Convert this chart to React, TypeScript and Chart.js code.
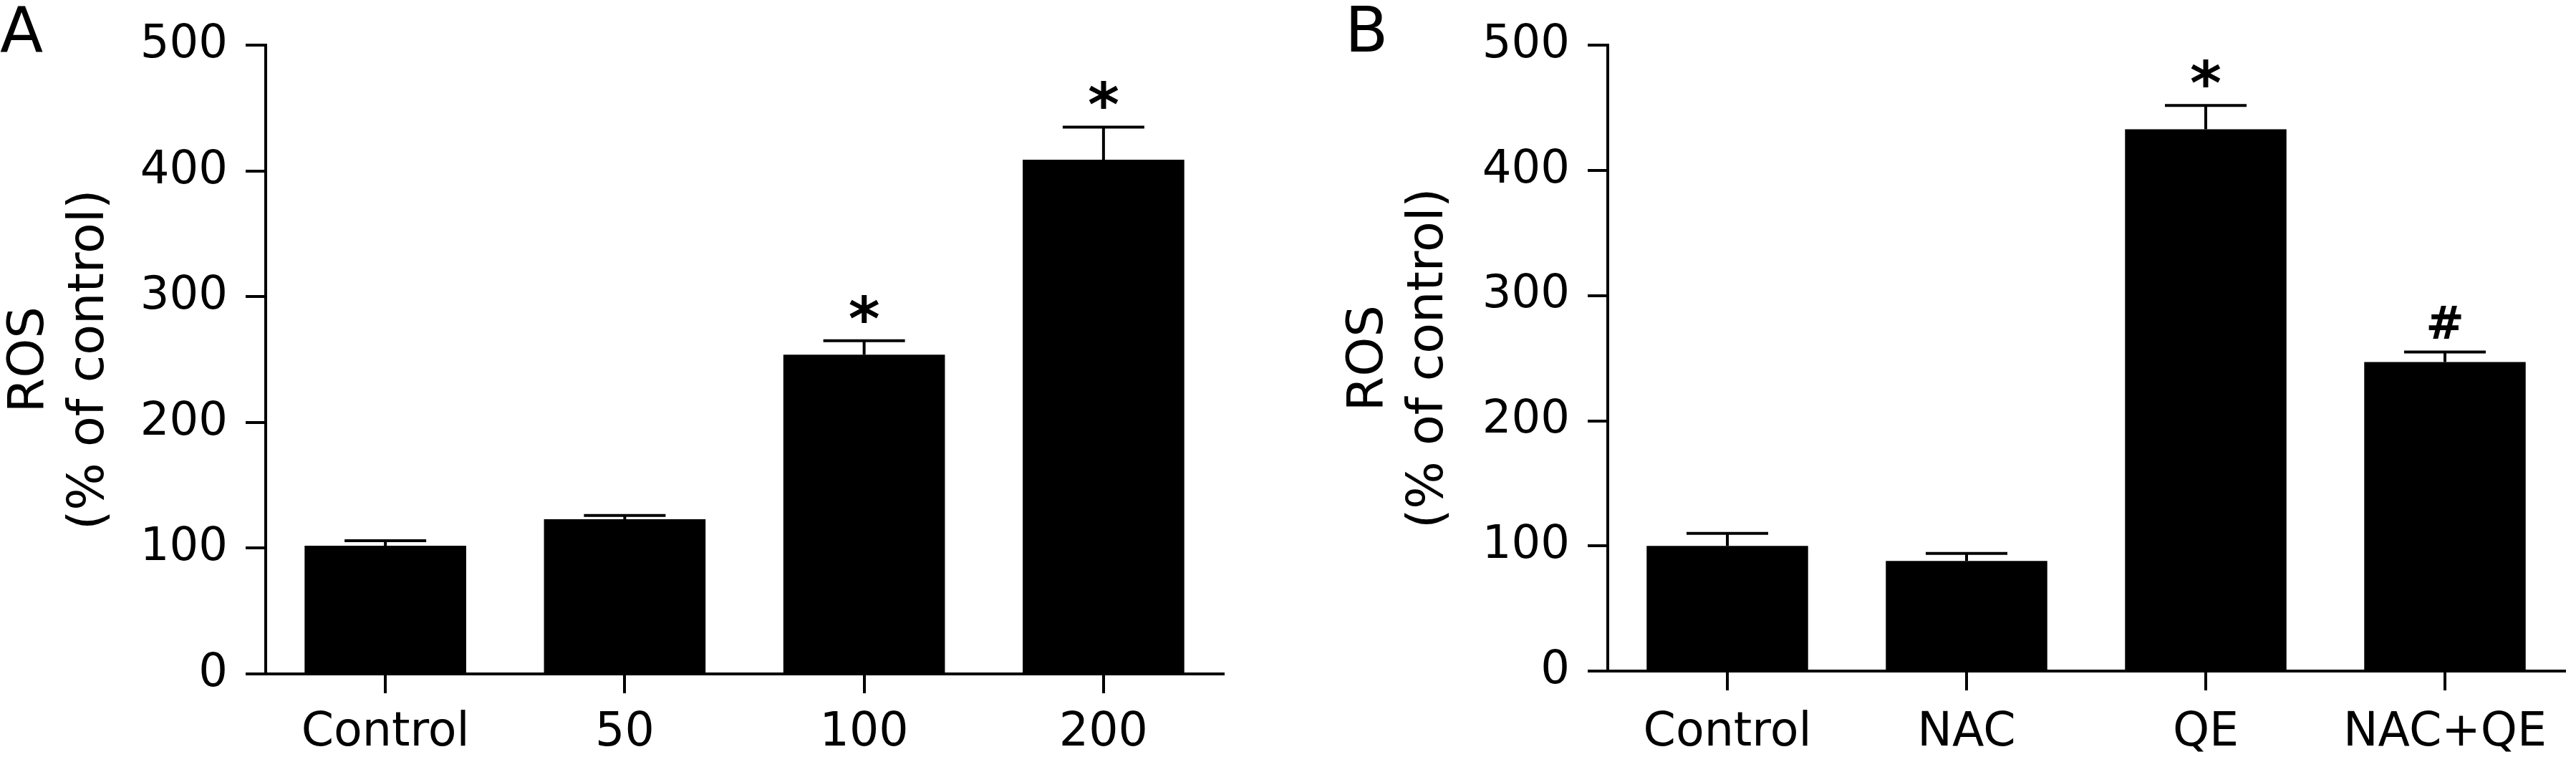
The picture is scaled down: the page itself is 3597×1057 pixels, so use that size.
import React, { useEffect, useRef } from "react";
import { Chart, registerables } from "chart.js";

Chart.register(...registerables);

// ---- Data ----
const categoriesA = ["Control", "50", "100", "200"];
const valuesA = [102, 123, 254, 409];
const errorsA = [4, 3, 11, 26];
const marksA = ["", "", "*", "*"];

const categoriesB = ["Control", "NAC", "QE", "NAC+QE"];
const valuesB = [100, 88, 433, 247];
const errorsB = [10, 6, 19, 8];
const marksB = ["", "", "*", "#"];

const yMin = 0;
const yMax = 500;
const yStep = 100;
const yTitle = ["ROS", "(% of control)"];

const FONT = "'DejaVu Sans', Verdana, sans-serif";

type PanelProps = {
  left: number;
  width: number;
  top: number;
  axisWidth: number;
  xHeight: number;
  rightPad: number;
  labelPad: number;
  letter: string;
  letterX: number;
  categories: string[];
  values: number[];
  errors: number[];
  marks: string[];
};

function Panel(p: PanelProps) {
  const ref = useRef<HTMLCanvasElement>(null);
  useEffect(() => {
    if (!ref.current) return;
    const annot = {
      id: "annot",
      afterDatasetsDraw(chart: any) {
        const { ctx, scales } = chart;
        const x = scales.x;
        const y = scales.y;
        ctx.save();
        ctx.strokeStyle = "#000";
        ctx.fillStyle = "#000";
        ctx.lineWidth = 4;
        ctx.lineCap = "butt";
        p.values.forEach((v, i) => {
          const px = x.getPixelForValue(i);
          const yb = y.getPixelForValue(v);
          const yt = y.getPixelForValue(v + p.errors[i]);
          ctx.beginPath();
          ctx.moveTo(px, yb);
          ctx.lineTo(px, yt);
          ctx.moveTo(px - 57, yt);
          ctx.lineTo(px + 57, yt);
          ctx.stroke();
          const m = p.marks[i];
          if (m) {
            ctx.textAlign = "center";
            ctx.textBaseline = "alphabetic";
            if (m === "*") {
              ctx.font = `bold 84px ${FONT}`;
              ctx.fillText(m, px, yt - 28 + 26);
            } else {
              ctx.font = `bold 64px ${FONT}`;
              ctx.fillText(m, px, yt - 18);
            }
          }
        });
        ctx.font = `88px ${FONT}`;
        ctx.textAlign = "left";
        ctx.textBaseline = "alphabetic";
        ctx.fillText(p.letter, p.letterX, 72);
        ctx.restore();
      },
    };
    const chart = new Chart(ref.current, {
      type: "bar",
      data: {
        labels: p.categories,
        datasets: [
          {
            data: p.values,
            backgroundColor: "#000",
            borderWidth: 0,
            barPercentage: 0.675,
            categoryPercentage: 1,
          },
        ],
      },
      options: {
        responsive: false,
        animation: false,
        devicePixelRatio: 1,
        layout: { padding: { top: p.top, right: p.rightPad, bottom: 0, left: 0 } },
        plugins: { legend: { display: false }, tooltip: { enabled: false } },
        scales: {
          x: {
            offset: true,
            grid: {
              display: true,
              drawOnChartArea: false,
              drawTicks: true,
              tickLength: 27,
              tickWidth: 4,
              tickColor: "#000",
              offset: false,
              color: "#000",
              lineWidth: 4,
            },
            border: { display: true, color: "#000", width: 4 },
            ticks: {
              font: { family: FONT, size: 65 },
              color: "#000",
              padding: p.labelPad,
              maxRotation: 0,
              autoSkip: false,
            },
            afterFit: (s: any) => {
              s.height = p.xHeight;
            },
          },
          y: {
            min: yMin,
            max: yMax,
            ticks: {
              stepSize: yStep,
              font: { family: FONT, size: 64 },
              color: "#000",
              padding: 25,
            },
            grid: {
              display: true,
              drawOnChartArea: false,
              drawTicks: true,
              tickLength: 28,
              tickWidth: 4,
              tickColor: "#000",
              color: "#000",
              lineWidth: 4,
            },
            border: { display: true, color: "#000", width: 4 },
            title: {
              display: true,
              text: yTitle,
              font: { family: FONT, size: 70 },
              color: "#000",
              padding: 0,
            },
            afterFit: (s: any) => {
              s.width = p.axisWidth;
            },
          },
        },
      },
      plugins: [annot],
    } as any);
    return () => chart.destroy();
  }, []);
  return (
    <canvas
      ref={ref}
      width={p.width}
      height={1057}
      style={{ position: "absolute", left: p.left, top: 0, width: p.width, height: 1057 }}
    />
  );
}

export default function App() {
  return (
    <div style={{ position: "absolute", left: 0, top: 0, width: 3597, height: 1057, background: "#fff", overflow: "hidden" }}>
      <Panel
        left={0}
        width={1870}
        top={60}
        axisWidth={371}
        xHeight={116}
        rightPad={162}
        labelPad={17}
        letter="A"
        letterX={0}
        categories={categoriesA}
        values={valuesA}
        errors={errorsA}
        marks={marksA}
      />
      <Panel
        left={1870}
        width={1727}
        top={54}
        axisWidth={375}
        xHeight={120}
        rightPad={16}
        labelPad={21}
        letter="B"
        letterX={8}
        categories={categoriesB}
        values={valuesB}
        errors={errorsB}
        marks={marksB}
      />
    </div>
  );
}
